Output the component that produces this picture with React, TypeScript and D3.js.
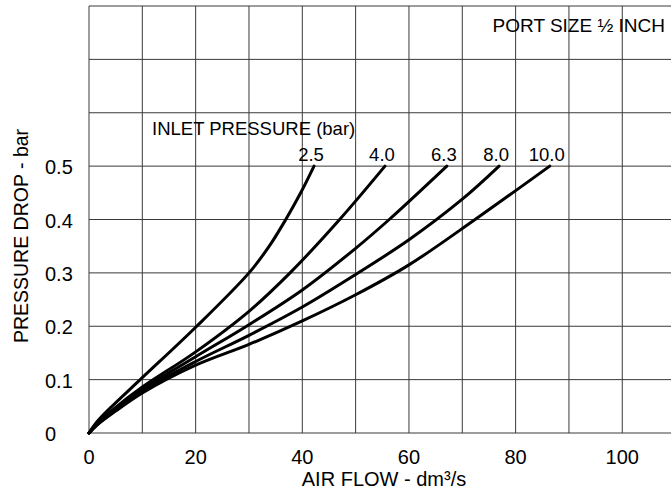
import * as d3 from "d3";

// Pressure drop curves, one per inlet pressure (bar). [air flow dm3/s, pressure drop bar]
const inletPressures = ["2.5", "4.0", "6.3", "8.0", "10.0"];

const curve25: [number, number][] = [
  [0, 0], [1.5, 0.021], [4, 0.047], [9.6, 0.1], [20.2, 0.2], [30, 0.3],
  [33.8, 0.35], [36.9, 0.4], [39.7, 0.45], [42.2, 0.5],
];
const curve40: [number, number][] = [
  [0, 0], [1.5, 0.017], [5, 0.048], [10, 0.086], [20, 0.152], [30, 0.228],
  [37.7, 0.3], [47, 0.4], [55.5, 0.5],
];
const curve63: [number, number][] = [
  [0, 0], [1.5, 0.016], [5, 0.045], [10, 0.082], [20, 0.143], [30, 0.203],
  [40, 0.268], [50, 0.346], [56.3, 0.4], [67.1, 0.5],
];
const curve80: [number, number][] = [
  [0, 0], [1.5, 0.015], [5, 0.043], [10, 0.079], [20, 0.134], [30, 0.183],
  [40, 0.236], [50, 0.297], [60, 0.362], [70, 0.438], [76.9, 0.5],
];
const curve100: [number, number][] = [
  [0, 0], [1.5, 0.015], [5, 0.041], [10, 0.075], [20, 0.127], [30, 0.166],
  [40, 0.21], [50, 0.259], [60, 0.315], [72.4, 0.4], [86.4, 0.5],
];
const curves = [curve25, curve40, curve63, curve80, curve100];

const xGrid = d3.range(0, 111, 10);
const yGrid = d3.range(0, 0.81, 0.1);
const xTickLabels = [0, 20, 40, 60, 80, 100];
const yTickLabels = [0, 0.1, 0.2, 0.3, 0.4, 0.5];

const width = 671;
const height = 501;
const font = "'Liberation Sans', Arial, Helvetica, sans-serif";

export default function App() {
  const x = d3.scaleLinear().domain([0, 110]).range([89, 675.6]);
  const y = d3.scaleLinear().domain([0, 0.8]).range([433, 6]);
  const line = d3
    .line<[number, number]>()
    .x((d) => x(d[0]))
    .y((d) => y(d[1]))
    .curve(d3.curveCatmullRom.alpha(0.5));

  return (
    <svg
      width={width}
      height={height}
      style={{ position: "absolute", left: 0, top: 0, background: "#fff" }}
      fontFamily={font}
    >
      {/* grid */}
      <g stroke="#3a3a3a" strokeWidth={1}>
        {xGrid.map((v) => (
          <line key={"x" + v} x1={x(v)} x2={x(v)} y1={y(0)} y2={y(0.8)} />
        ))}
        {yGrid.map((v) => (
          <line key={"y" + v} x1={x(0)} x2={width} y1={y(v)} y2={y(v)} />
        ))}
      </g>

      {/* curves */}
      <g fill="none" stroke="#000" strokeWidth={3} strokeLinecap="round">
        {curves.map((c, i) => (
          <path key={i} d={line(c) || undefined} />
        ))}
      </g>

      {/* curve labels */}
      <g fontSize={18.5} textAnchor="middle" fill="#000">
        {curves.map((c, i) => {
          const end = c[c.length - 1];
          return (
            <text key={i} x={x(end[0]) - 3} y={y(end[1]) - 5}>
              {inletPressures[i]}
            </text>
          );
        })}
      </g>
      <text x={152} y={135} fontSize={18.5}>
        INLET PRESSURE (bar)
      </text>
      <text x={665} y={32} fontSize={19} textAnchor="end">
        PORT SIZE ½ INCH
      </text>

      {/* y ticks */}
      <g fontSize={20}>
        {yTickLabels.map((v) => (
          <text key={v} x={45} y={y(v) + 8}>
            {v === 0 ? "0" : v.toFixed(1)}
          </text>
        ))}
      </g>
      {/* x ticks */}
      <g fontSize={20} textAnchor="middle">
        {xTickLabels.map((v) => (
          <text key={v} x={x(v)} y={464}>
            {v}
          </text>
        ))}
      </g>

      <text x={384} y={486} fontSize={20} textAnchor="middle">
        AIR FLOW - dm³/s
      </text>
      <text
        transform="translate(28,236) rotate(-90)"
        fontSize={19.5}
        textAnchor="middle"
      >
        PRESSURE DROP - bar
      </text>
    </svg>
  );
}
